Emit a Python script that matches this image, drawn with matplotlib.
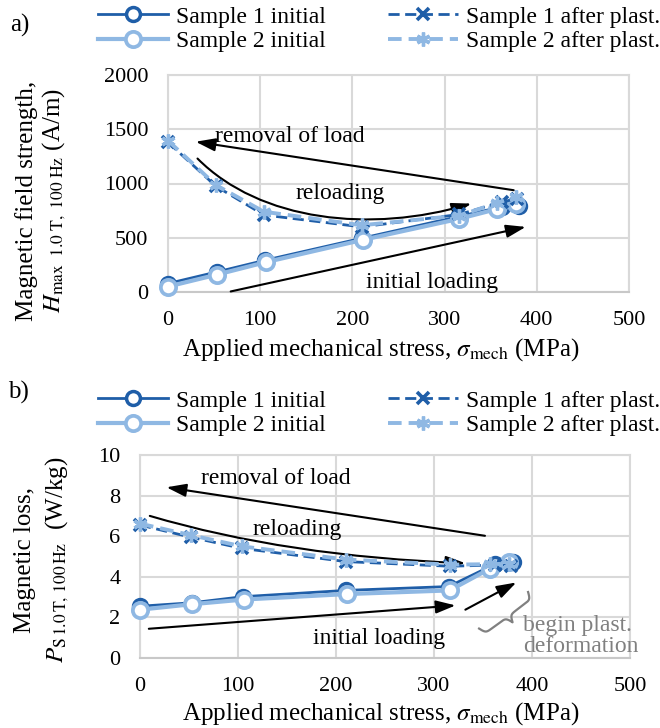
import numpy as np
import matplotlib
matplotlib.use('Agg')
import matplotlib.pyplot as plt
from matplotlib.patches import FancyArrowPatch
from matplotlib.path import Path
from matplotlib.lines import Line2D

plt.rcParams['font.family'] = ['Liberation Serif', 'DejaVu Serif']
plt.rcParams['mathtext.fontset'] = 'stix'

# ---------------- data ----------------
stress_s1 = [0, 53, 105, 210, 315, 362, 381]
stress_s2 = [0, 53, 106, 211, 316, 357, 377]
stress_after1 = [0, 52, 104, 210, 316, 362, 379]
stress_after2 = [0, 52, 104, 210, 316, 357, 377]

# a) magnetic field strength (A/m)
h_s1_init = [78, 185, 292, 495, 695, 785, 795]
h_s2_init = [50, 160, 275, 480, 675, 765, 810]
h_s1_after = [1380, 975, 710, 600, 715, 830, 860]
h_s2_after = [1395, 985, 740, 615, 705, 820, 875]

# b) magnetic loss (W/kg)
p_s1_init = [2.55, 2.72, 3.02, 3.33, 3.52, 4.62, 4.72]
p_s2_init = [2.38, 2.65, 2.88, 3.15, 3.33, 4.40, 4.72]
p_s1_after = [6.55, 5.95, 5.40, 4.75, 4.52, 4.58, 4.55]
p_s2_after = [6.62, 6.05, 5.50, 4.85, 4.60, 4.62, 4.65]

x_ticks = [0, 100, 200, 300, 400, 500]
ya_ticks = [0, 500, 1000, 1500, 2000]
yb_ticks = [0, 2, 4, 6, 8, 10]

labels = ['Sample 1 initial', 'Sample 2 initial',
          'Sample 1 after plast.', 'Sample 2 after plast.']

DARK = '#1f5ea8'
LIGHT = '#8fb8e3'
GRID = '#d9d9d9'
GRAY = '#808080'
FS = 16
FT = 17

W, H = 660, 728
fig = plt.figure(figsize=(W / 100, H / 100), dpi=100)


def fx(px):
    return px / W


def fy(py):
    return 1 - py / H


axA = fig.add_axes([fx(168), fy(292), (629 - 168) / W, (292 - 75) / H])
axB = fig.add_axes([fx(140), fy(658), (630 - 140) / W, (658 - 455) / H])

styles = [
    dict(color=DARK, lw=2.0, marker='o', ms=10, mfc='white', mec=DARK, mew=2.5),
    dict(color=LIGHT, lw=3.0, marker='o', ms=11, mfc='white', mec=LIGHT, mew=2.7),
    dict(color=DARK, lw=2.0, ls=(0, (4, 2)), marker='x', ms=9, mec=DARK, mew=2.6),
    dict(color=LIGHT, lw=2.8, ls=(0, (3.5, 1.8)), marker=(6, 2, 0), ms=10, mec=LIGHT, mew=2.4),
]


def style_axes(ax, yticks):
    ax.set_xlim(0, 500)
    ax.set_ylim(yticks[0], yticks[-1])
    ax.set_xticks(x_ticks)
    ax.set_yticks(yticks)
    ax.grid(True, color=GRID, lw=1.5)
    ax.set_axisbelow(True)
    for s in ax.spines.values():
        s.set_color(GRID)
        s.set_linewidth(1.5)
    ax.spines['bottom'].set_color('#c8c8c8')
    ax.tick_params(length=0, pad=14, labelsize=FS)


def draw_series(ax, ys):
    xs = [stress_s1, stress_s2, stress_after1, stress_after2]
    zs = [3, 4, 5, 6]
    for x, y, st, z in zip(xs, ys, styles, zs):
        ax.plot(x, y, clip_on=False, zorder=z, **st)


def arrow(ax, tail, head, lw=1.5):
    ax.annotate('', xy=head, xytext=tail,
                arrowprops=dict(arrowstyle='-|>,head_length=0.85,head_width=0.28',
                                mutation_scale=14, color='black', lw=lw,
                                shrinkA=0, shrinkB=0), annotation_clip=False)


def curve_arrow(ax, verts, codes):
    p = FancyArrowPatch(path=Path(verts, codes),
                        arrowstyle='-|>,head_length=0.85,head_width=0.28',
                        mutation_scale=14, color='black', lw=1.5,
                        transform=ax.transData)
    ax.add_patch(p)


def add_legend(ytop):
    h = [Line2D([], [], **st) for st in styles]
    for x0, hh, ll in [(98, h[:2], labels[:2]), (388, h[2:], labels[2:])]:
        fig.legend(hh, ll, loc='upper left',
                   bbox_to_anchor=(fx(x0), fy(ytop)), frameon=False,
                   fontsize=FT, handlelength=2.95, handletextpad=0.35,
                   labelspacing=0.12, borderpad=0, borderaxespad=0)


# ---------------- panel a ----------------
style_axes(axA, ya_ticks)
draw_series(axA, [h_s1_init, h_s2_init, h_s1_after, h_s2_after])

axA.text(132, 1430, 'removal of load', fontsize=FT, ha='center', va='center')
arrow(axA, (375, 938), (30, 1385))
axA.text(187, 908, 'reloading', fontsize=FT, ha='center', va='center')
curve_arrow(axA, [(32, 1230), (100, 650), (220, 540), (329, 815)],
            [Path.MOVETO, Path.CURVE4, Path.CURVE4, Path.CURVE4])
axA.text(286, 92, 'initial loading', fontsize=FT, ha='center', va='center')
arrow(axA, (68, 5), (388, 600))

# ---------------- panel b ----------------
style_axes(axB, yb_ticks)
draw_series(axB, [p_s1_init, p_s2_init, p_s1_after, p_s2_after])

axB.text(139, 8.85, 'removal of load', fontsize=FT, ha='center', va='center')
arrow(axB, (352, 6.02), (27, 8.41))
axB.text(160, 6.31, 'reloading', fontsize=FT, ha='center', va='center')
curve_arrow(axB, [(10, 7.0), (150, 5.0), (332, 4.67)],
            [Path.MOVETO, Path.CURVE3, Path.CURVE3])
axB.text(244, 0.95, 'initial loading', fontsize=FT, ha='center', va='center')
arrow(axB, (9, 1.44), (322, 2.59))
arrow(axB, (332, 2.38), (384, 3.72))

# curly brace (gray) drawn in display space, converted back to data
fig.canvas.draw()
A = axB.transData.transform((346, 1.45))
B = axB.transData.transform((396, 3.25))
u = (B - A) / np.linalg.norm(B - A)
v = np.array([u[1], -u[0]])
L = np.linalg.norm(B - A)
Hb = 15.0
beta = 0.7
s_half = np.linspace(0, L / 2, 120)
y_half = (1 / (1 + np.exp(-beta * (s_half - s_half[0])))
          + 1 / (1 + np.exp(-beta * (s_half - s_half[-1]))) - 0.5)
s_all = np.concatenate([s_half, L - s_half[::-1][1:]])
y_all = np.concatenate([y_half, y_half[::-1][1:]])
pts = A[None, :] + s_all[:, None] * u[None, :] + (y_all * Hb)[:, None] * v[None, :]
dpts = axB.transData.inverted().transform(pts)
axB.plot(dpts[:, 0], dpts[:, 1], color=GRAY, lw=1.6, clip_on=False, zorder=7)
axB.text(391, 1.1, 'begin plast.\ndeformation', fontsize=FT, color=GRAY,
         ha='left', va='center', linespacing=1.0, clip_on=False)

# ---------------- labels ----------------
fig.text(fx(27), fy(201), 'Magnetic field strength,', rotation=90,
         ha='center', va='center', fontsize=FT + 1)
fig.text(fx(54), fy(201), r'$H_{\mathrm{max\ \ 1.0\ T,\ 100\ Hz}}$ (A/m)', rotation=90,
         ha='center', va='center', fontsize=FT + 1)
fig.text(fx(25), fy(560), 'Magnetic loss,', rotation=90,
         ha='center', va='center', fontsize=FT + 1)
fig.text(fx(57), fy(560), r'$P_{\mathrm{S\,1.0\,T,\,100\,Hz}}$  (W/kg)', rotation=90,
         ha='center', va='center', fontsize=FT + 1)

xlabel = r'Applied mechanical stress, $\sigma_{\mathrm{mech}}$ (MPa)'
fig.text(fx(381), fy(356), xlabel, ha='center', va='baseline', fontsize=FT + 1)
fig.text(fx(381), fy(720), xlabel, ha='center', va='baseline', fontsize=FT + 1)

fig.text(fx(10), fy(25), 'a)', ha='left', va='center', fontsize=FT + 1)
fig.text(fx(8), fy(392), 'b)', ha='left', va='center', fontsize=FT + 1)

add_legend(6)
add_legend(390)

fig.savefig('out.png', dpi=100)
